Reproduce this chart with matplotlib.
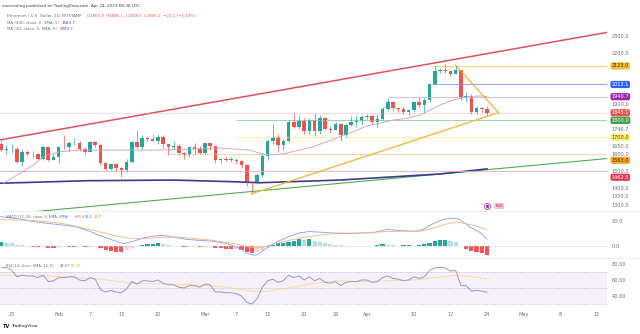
import numpy as np
import matplotlib.pyplot as plt
from matplotlib.transforms import blended_transform_factory

# ---- data ----
# day of year 2023: 21 = Jan 21 ... 114 = Apr 24
days = np.arange(21, 115)

opens = [1659, 1627, 1628, 1628, 1556, 1612, 1603, 1598, 1573, 1645, 1567,
         1585, 1641, 1640, 1665, 1667, 1630, 1615, 1673, 1651, 1547, 1514,
         1539, 1515, 1506, 1556, 1673, 1641, 1694, 1692, 1680, 1703, 1659,
         1642, 1647, 1608, 1594, 1640, 1633, 1605, 1663, 1646, 1567, 1568,
         1565, 1565, 1561, 1534, 1436, 1428, 1477, 1590, 1680, 1702, 1652,
         1678, 1791, 1761, 1796, 1736, 1805, 1735, 1814, 1750, 1745, 1776,
         1711, 1772, 1792, 1795, 1821, 1825, 1791, 1808, 1870, 1908, 1872,
         1865, 1849, 1861, 1910, 1891, 1919, 2013, 2091, 2100, 2091, 2078,
         2099, 1940, 1943, 1849, 1871, 1867]
highs = [1676, 1651, 1660, 1640, 1628, 1623, 1619, 1605, 1655, 1645, 1600,
         1650, 1715, 1680, 1695, 1680, 1643, 1680, 1680, 1660, 1556, 1543,
         1545, 1522, 1570, 1680, 1743, 1716, 1705, 1722, 1715, 1713, 1662,
         1675, 1660, 1610, 1645, 1666, 1650, 1667, 1666, 1648, 1576, 1585,
         1580, 1578, 1567, 1541, 1440, 1490, 1600, 1690, 1780, 1720, 1690,
         1805, 1842, 1828, 1817, 1812, 1845, 1830, 1822, 1765, 1790, 1780,
         1780, 1825, 1830, 1830, 1840, 1830, 1840, 1880, 1935, 1913, 1875,
         1880, 1870, 1915, 1936, 1935, 2020, 2125, 2110, 2136, 2096, 2125,
         2100, 1970, 1955, 1885, 1880, 1885]
lows = [1617, 1602, 1605, 1546, 1530, 1589, 1575, 1563, 1567, 1560, 1563,
        1546, 1630, 1621, 1653, 1620, 1600, 1610, 1640, 1536, 1503, 1508,
        1500, 1462, 1495, 1550, 1636, 1633, 1680, 1676, 1660, 1634, 1597,
        1628, 1593, 1572, 1585, 1600, 1600, 1598, 1624, 1545, 1550, 1559,
        1551, 1543, 1520, 1410, 1368, 1420, 1465, 1565, 1660, 1615, 1625,
        1670, 1755, 1750, 1720, 1720, 1710, 1720, 1740, 1725, 1740, 1680,
        1700, 1765, 1760, 1770, 1810, 1780, 1762, 1800, 1858, 1858, 1850,
        1840, 1830, 1850, 1880, 1850, 1910, 2010, 2080, 2080, 2065, 2075,
        1920, 1910, 1840, 1838, 1850, 1828]
closes = [1627, 1628, 1628, 1556, 1612, 1603, 1598, 1573, 1645, 1567, 1585,
          1641, 1640, 1665, 1667, 1630, 1615, 1673, 1651, 1547, 1514, 1539,
          1515, 1506, 1556, 1673, 1641, 1694, 1692, 1680, 1703, 1659, 1642,
          1647, 1608, 1594, 1640, 1633, 1605, 1663, 1646, 1567, 1568, 1565,
          1565, 1561, 1534, 1436, 1428, 1477, 1590, 1680, 1702, 1652, 1678,
          1791, 1761, 1796, 1736, 1805, 1735, 1814, 1750, 1745, 1776, 1711,
          1772, 1792, 1795, 1821, 1825, 1791, 1808, 1870, 1908, 1872, 1865,
          1849, 1861, 1910, 1891, 1919, 2013, 2091, 2100, 2091, 2078, 2099,
          1940, 1943, 1849, 1871, 1867, 1845.1]

# moving averages (read at sample points)
ma20_days = [21.4, 24.6, 27.1, 29.1, 32.2, 36.1, 43.7, 51.4, 62.9, 68.6, 70.5,
             72.5, 74.9, 78.2, 80.7, 83.4, 85.9, 88.4, 91, 93.5, 96, 98.7,
             101.2, 103.2, 105, 107.5, 110.2, 112.7, 114]
ma20_vals = [1427, 1486, 1535, 1585, 1614, 1624, 1624, 1624, 1636, 1624, 1605,
             1595, 1601, 1624, 1644, 1674, 1703, 1733, 1767, 1783, 1802, 1812,
             1832, 1862, 1891, 1921, 1941, 1945, 1940.7]
ma200_days = [20.8, 37.4, 53.9, 65.4, 70.5, 85.9, 105, 114]
ma200_vals = [1427, 1442, 1446, 1436, 1430, 1446, 1482, 1512]

# MACD pane
hist = [12, 10, 8, 4, 2, 1, -3, -4, -2, -7, -8, -3, -1, -5, -5, -2, -5, -4,
        -2, -8, -13, -17, -19, -20, -15, -8, 1, 4, 6, 7, 8, 5, 3, 1, -1, -4,
        -3, -2, -5, -4, -2, -6, -8, -9, -10, -9, -13, -19, -24, -22, -15, -6,
        4, 8, 10, 14, 17, 21, 20, 22, 16, 14, 9, 6, 4, 2, 0.5, -1, 1, -0.5,
        1, 0.5, 3, 5, 4, 2, 1, 2, 3, 1, 3, 6, 10, 15, 18, 20, 15, 11, -2,
        -10, -17, -21, -25, -29.4]
macd_days = [20.8, 24.6, 27.1, 30.3, 33.5, 35.4, 37.4, 39.9, 42.5, 44.4, 46.3,
             48.2, 50.1, 52, 53.9, 56.5, 59, 61.6, 64.2, 66.7, 68, 69.3, 70,
             71.2, 72.5, 74.4, 76.3, 78.2, 80.1, 82, 84.6, 87.1, 89.7, 92.2,
             94.8, 96.7, 98.6, 100.5, 101.8, 103.7, 105.6, 107.5, 108.8,
             110.7, 112.7, 114]
macd_vals = [96, 88, 80, 73, 67, 62, 51, 34, 18, 7, 15, 26, 32, 34, 29, 21,
             18, 15, 7, -8, -24, -31, -29, -15, 1, 18, 32, 43, 47, 45, 42, 40,
             42, 43, 54, 51, 49, 48, 54, 73, 87, 91, 87, 62, 43, 22.1]
sig_days = [20.8, 24.6, 27.1, 30.3, 33.5, 38.6, 42.5, 45, 48.2, 51.4, 54.6,
            57.8, 61.6, 65.5, 67.5, 69.3, 71.2, 73.1, 75.6, 78.2, 80.7, 83.3,
            85.8, 89.7, 93.5, 97.4, 101.2, 103.7, 106.3, 108.2, 110.7, 112.7,
            114]
sig_vals = [86, 85, 83, 78, 71, 51, 34, 26, 23, 28, 29, 24, 18, 7, 0, -6, -4,
            5, 16, 26, 32, 38, 42, 42, 46, 48, 48, 58, 72, 79, 70, 61, 51.7]

# RSI pane
rsi = [75, 76, 72, 64, 66, 65, 65, 63, 66, 58, 59, 63, 63, 64, 64, 60, 59, 63,
       61, 48, 45, 47, 45, 44, 49, 58, 55, 59, 59, 58, 60, 56, 54, 54, 51, 50,
       53, 53, 51, 55, 54, 45, 45, 44, 44, 43, 40, 32, 30, 37, 51, 59, 61, 57,
       59, 66, 63, 65, 60, 64, 59, 62, 57, 56, 58, 53, 57, 58, 58, 60, 60, 57,
       58, 63, 65, 62, 61, 59, 60, 64, 62, 64, 72, 75, 76, 75, 71, 72, 53, 53,
       46, 47, 46, 44.67]
rsi_ma_days = [21, 30, 40, 46, 52, 58, 64, 69, 72, 76, 80, 85, 90, 95, 100,
               104, 108, 111, 114]
rsi_ma_vals = [66, 65, 61, 56, 55, 54, 51, 46, 46, 50, 55, 59, 58, 59, 60, 63,
               66, 64, 61.8]

# drawn levels / trendlines
h_levels = [2123.0, 2013.1, 1940.7, 1800.0, 1700.0, 1600.0]
h_starts = [103.5, 103.5, 95, 66, 66, 53]
h_colors = ['#f7d06b', '#7d9cf0', '#c9b6e4', '#8fd19a', '#fbe99a', '#f9cf9a']
red_trend = ([20.76, 137.5], [1684, 2325])
green_trend = ([26.5, 137.5], [1256, 1575])
tri_low = ([68.8, 116.2], [1363, 1846])
tri_up = ([108, 116.2], [2128, 1846])

price_ticks = [2300, 2200, 1900, 1746.7, 1650, 1600, 1500, 1400, 1350, 1300]
badges = [(2123.0, '#f5bf3a', '#3a2a00'), (2013.1, '#2962ff', 'white'),
          (1940.7, '#9c27b0', 'white'), (1845.1, '#ef5350', 'white'),
          (1800.0, '#43a047', 'white'), (1700.0, '#fff176', '#4a4000'),
          (1563.0, '#f5a623', '#3a2a00'), (1462.5, '#e53950', 'white')]

date_pos = [23, 32, 38, 44, 51, 60, 66, 72, 79, 85, 91, 100, 107, 114, 121,
            128, 135]
date_lbl = ['23', 'Feb', '7', '13', '20', 'Mar', '7', '13', '20', '26', 'Apr',
            '10', '17', '24', 'May', '8', '15']

# ---- figure ----
W, H = 640, 334
fig = plt.figure(figsize=(6.4, 3.34), dpi=100)
fig.patch.set_facecolor('white')
TXT = '#6a6d78'
FS = 3.6


def px_axes(x0, y0, x1, y1):
    return fig.add_axes([x0 / W, 1 - y1 / H, (x1 - x0) / W, (y1 - y0) / H])


ax = px_axes(0, 10, 607, 211)
ax_m = px_axes(0, 211, 607, 258)
ax_r = px_axes(0, 258, 607, 310)
xlim = (20.76, 20.76 + 607 / 5.223)

for a in (ax, ax_m, ax_r):
    a.set_xlim(*xlim)
    for s in a.spines.values():
        s.set_visible(False)
    a.yaxis.tick_right()
    a.tick_params(axis='y', length=0, labelsize=FS, labelcolor=TXT, pad=3.4)
    a.tick_params(axis='x', length=0, labelsize=FS, labelcolor=TXT)
    a.set_xticks([])

# main pane
ax.set_ylim(1262.3, 2455)
ax.set_yticks(price_ticks)
ax.set_yticklabels([f'{p:.1f}' for p in price_ticks])

ax.plot(*red_trend, color='#e0505e', lw=1.1)
ax.plot(*green_trend, color='#4caf50', lw=0.8)
ax.plot(ma200_days, ma200_vals, color='#3c3c8c', lw=1.2)
for lv, st, c in zip(h_levels, h_starts, h_colors):
    ax.hlines(lv, st, xlim[1], color=c, lw=0.6)
ax.axhline(1500, color='#f4a7b0', lw=0.6)
ax.axhline(closes[-1], color='#f4a7b0', lw=0.6, ls=(0, (1, 1)))
ax.plot(ma20_days, ma20_vals, color='#c9a9c9', lw=0.7)
ax.plot(*tri_low, color='#f5b233', lw=0.9)
ax.plot(*tri_up, color='#f5b233', lw=0.9)

up = '#26a69a'
dn = '#ef5350'
cols = [up if c >= o else dn for o, c in zip(opens, closes)]
ax.vlines(days, lows, highs, colors=cols, lw=0.5)
bottoms = [min(o, c) for o, c in zip(opens, closes)]
heights = [max(abs(c - o), 3) for o, c in zip(opens, closes)]
ax.bar(days, heights, bottom=bottoms, width=0.68, color=cols, linewidth=0)

bt = blended_transform_factory(ax.transAxes, ax.transData)
for p, fc, tc in badges:
    ax.text(1.0075, p, f'{p:.1f}', transform=bt, fontsize=FS, color=tc,
            va='center', ha='left',
            bbox=dict(boxstyle='round,pad=0.22,rounding_size=0.4', fc=fc,
                      ec='none'))

# event icons near the bottom right of the price pane
ax.plot([114], [1292], marker='o', ms=4.2, mfc='white', mec='#9c27b0', mew=0.6)
ax.plot([114], [1292], marker='o', ms=1.2, color='#9c27b0')
ax.text(115.6, 1292, 'ECE', fontsize=2.8, color='#c2185b', va='center',
        bbox=dict(boxstyle='round,pad=0.25', fc='#f8bbd0', ec='none'))

# MACD pane
ax_m.set_ylim(-40.1, 114.5)
ax_m.set_yticks([80, 0])
ax_m.set_yticklabels(['80.0', '0.0'])
ax_m.axhline(0, color='#c3c6ce', lw=0.5, ls=(0, (2, 2)))
hcols = []
for i, v in enumerate(hist):
    prev = hist[i - 1] if i else v
    if v >= 0:
        hcols.append('#26a69a' if v >= prev else '#b2dfdb')
    else:
        hcols.append('#ff5252' if v <= prev else '#ffcdd2')
ax_m.bar(days, hist, width=0.8, color=hcols, linewidth=0)
ax_m.plot(macd_days, macd_vals, color='#7f9ef7', lw=0.6)
ax_m.plot(sig_days, sig_vals, color='#f8b27c', lw=0.6)

# RSI pane
ax_r.set_ylim(22.5, 87.5)
ax_r.set_yticks([80, 60, 40])
ax_r.set_yticklabels(['80.00', '60.00', '40.00'])
ax_r.axhspan(30, 70, color='#7e57c2', alpha=0.08, lw=0)
for lv in (70, 50, 30):
    ax_r.axhline(lv, color='#b9acdc', lw=0.5, ls=(0, (2, 2)))
ax_r.plot(rsi_ma_days, rsi_ma_vals, color='#f6dc86', lw=0.6)
ax_r.plot(days, rsi, color='#a28fd8', lw=0.7)
ax_r.set_xticks(date_pos)
ax_r.set_xticklabels(date_lbl)
ax_r.tick_params(axis='x', pad=1.6)

# pane separators
for yy in (211, 258):
    fig.add_artist(plt.Line2D([0, 1], [1 - yy / H] * 2, color='#e6e8ee', lw=0.5))

# header / legends
def ftxt(x, y, s, **kw):
    fig.text(x / W, 1 - y / H, s, va='center', ha='left', **kw)

ftxt(2, 6, 'eomcoding published on TradingView.com, Apr 24, 2023 08:36 UTC',
     fontsize=3.0, color='#3a3d48')
ftxt(7, 15.7, 'Ethereum / U.S. Dollar, 1D, BITSTAMP', fontsize=2.9, color=TXT)
ftxt(87, 15.7, 'O1863.9  H1885.1  L1828.0  C1845.1  \u221222.1 (\u22121.19%)',
     fontsize=2.9, color='#ef5350')
ftxt(7, 23.3, 'MA (200, close, 0, SMA, 5)', fontsize=2.9, color=TXT)
ftxt(62, 23.3, '1583.7', fontsize=2.9, color='#3c3c8c')
ftxt(7, 29.3, 'MA (20, close, 0, SMA, 5)', fontsize=2.9, color=TXT)
ftxt(60, 29.3, '1940.7', fontsize=2.9, color='#9c27b0')

ftxt(6, 217, 'MACD (12, 26, close, 9, EMA, EMA)', fontsize=2.6, color=TXT)
ftxt(74, 217, '\u221229.4', fontsize=2.6, color='#ef5350')
ftxt(85, 217, '22.1', fontsize=2.6, color='#2962ff')
ftxt(94, 217, '51.7', fontsize=2.6, color='#ff6d00')

ftxt(6, 266, 'RSI (14, close, SMA, 14, 5)', fontsize=2.6, color=TXT)
ftxt(60, 266, '44.67', fontsize=2.6, color='#7e57c2')
ftxt(71, 266, '61.76', fontsize=2.6, color='#e0b020')

ftxt(3, 326, 'TV', fontsize=3.6, color='#131722', fontweight='bold')
ftxt(11, 326, 'TradingView', fontsize=3.2, color='#131722')

fig.savefig('out.png', dpi=100, facecolor='white')
